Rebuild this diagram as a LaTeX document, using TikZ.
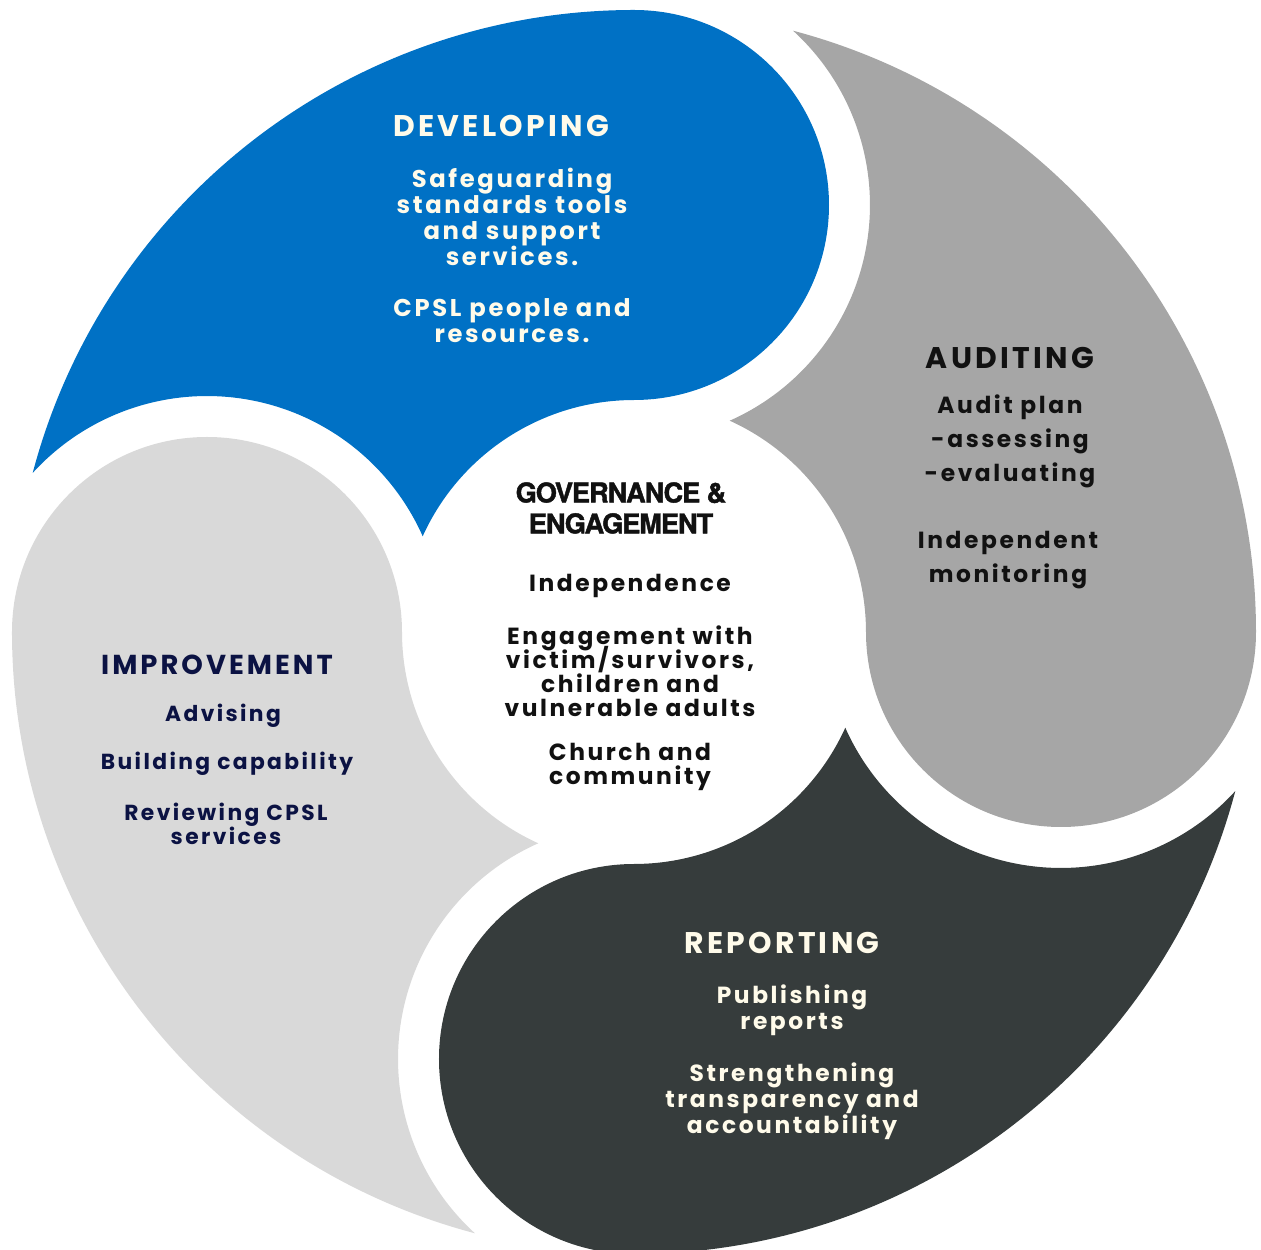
\documentclass[tikz,border=0pt]{standalone}
\usepackage{fontspec}
\usepackage{tikz}
\usepackage{xcolor}
\newfontfamily\spacedfont{Poppins}[LetterSpace=11]
\newfontfamily\govfont{TeX Gyre Heros}[LetterSpace=-4, BoldFeatures={FakeBold=1.6}]
\newcommand{\tightlines}{\lineskiplimit -20pt\relax}
\definecolor{devblue}{HTML}{0071C5}
\definecolor{audgrey}{HTML}{A6A6A6}
\definecolor{repdark}{HTML}{363C3C}
\definecolor{implight}{HTML}{D9D9D9}
\definecolor{cream}{HTML}{FFFBEA}
\definecolor{navy}{HTML}{0B1243}
\definecolor{inkblack}{HTML}{111111}

\begin{document}
\begin{tikzpicture}[x=0.02cm, y=0.02cm,
    headtext/.style={font=\spacedfont\bfseries\fontsize{17}{19}\selectfont},
    bodytext/.style={align=center, font=\spacedfont\bfseries\fontsize{13.3}{14.7}\selectfont\tightlines},
    devtext/.style={align=center, font=\spacedfont\bfseries\fontsize{13.8}{14.7}\selectfont\tightlines},
    tighttext/.style={align=center, font=\spacedfont\bfseries\fontsize{13.3}{13.6}\selectfont\tightlines},
    wideline/.style={align=center, font=\spacedfont\bfseries\fontsize{13.3}{19.3}\selectfont\tightlines},
    imptext/.style={align=center, font=\spacedfont\bfseries\fontsize{12.4}{13.6}\selectfont\tightlines},
    govtext/.style={align=center, font=\govfont\bfseries\fontsize{15.5}{17.6}\selectfont\tightlines}]
                        \useasboundingbox (-634, -618) rectangle (627, 632);
                        % developing
                        \begin{scope}[rotate=0]
                            \fill[devblue] (0, 232) arc[start angle=-90, end angle=90, radius=195]
                                arc[start angle=90, end angle=165.18, radius=622]
                                arc[start angle=137.61, end angle=23.94, radius=236]
                                arc[start angle=155.62, end angle=90, radius=232] -- cycle;
                        \end{scope}
                        % improvement
                        \begin{scope}[rotate=90]
                            \fill[implight] (0, 232) arc[start angle=-90, end angle=90, radius=195]
                                arc[start angle=90, end angle=165.18, radius=622]
                                arc[start angle=137.61, end angle=23.94, radius=236]
                                arc[start angle=155.62, end angle=90, radius=232] -- cycle;
                        \end{scope}
                        % reporting
                        \begin{scope}[rotate=180]
                            \fill[repdark] (0, 232) arc[start angle=-90, end angle=90, radius=195]
                                arc[start angle=90, end angle=165.18, radius=622]
                                arc[start angle=137.61, end angle=23.94, radius=236]
                                arc[start angle=155.62, end angle=90, radius=232] -- cycle;
                        \end{scope}
                        % auditing
                        \begin{scope}[rotate=270]
                            \fill[audgrey] (0, 232) arc[start angle=-90, end angle=90, radius=195]
                                arc[start angle=90, end angle=165.18, radius=622]
                                arc[start angle=137.61, end angle=23.94, radius=236]
                                arc[start angle=155.62, end angle=90, radius=232] -- cycle;
                        \end{scope}
                        \node[headtext, text=cream] (devhead) at (-133, 506) {DEVELOPING};
                        \node[devtext, text=cream] (devtools) at (-122, 415) {Safeguarding\\standards tools\\and support\\services.};
                        \node[devtext, text=cream] (devpeople) at (-122, 311) {CPSL people and\\resources.};
                        \node[headtext, text=inkblack] (audhead) at (376, 274) {AUDITING};
                        \node[wideline, text=inkblack] (audplan) at (376, 191) {Audit plan\\-assessing\\-evaluating};
                        \node[wideline, text=inkblack] (audmon) at (374, 72) {Independent\\monitoring};
                        \node[govtext, text=inkblack] (govhead) at (-13, 124) {GOVERNANCE \&\\ENGAGEMENT};
                        \node[bodytext, text=inkblack] (govind) at (-4, 46) {Independence};
                        \node[tighttext, text=inkblack] (goveng) at (-4, -39) {Engagement with\\victim/survivors,\\children and\\vulnerable adults};
                        \node[tighttext, text=inkblack] (govchurch) at (-4, -135) {Church and\\community};
                        \node[headtext, text=navy, font=\spacedfont\bfseries\fontsize{15.6}{18}\selectfont] (imphead) at (-417, -33) {IMPROVEMENT};
                        \node[imptext, text=navy] (impadv) at (-411, -84) {Advising};
                        \node[imptext, text=navy] (impbuild) at (-407, -132) {Building capability};
                        \node[imptext, text=navy] (imprev) at (-408, -192) {Reviewing CPSL\\services};
                        \node[headtext, text=cream] (rephead) at (148, -311) {REPORTING};
                        \node[bodytext, text=cream] (reppub) at (158, -378) {Publishing\\reports};
                        \node[bodytext, text=cream] (repstr) at (158, -469) {Strengthening\\transparency and\\accountability};
                    \end{tikzpicture}
\end{document}
